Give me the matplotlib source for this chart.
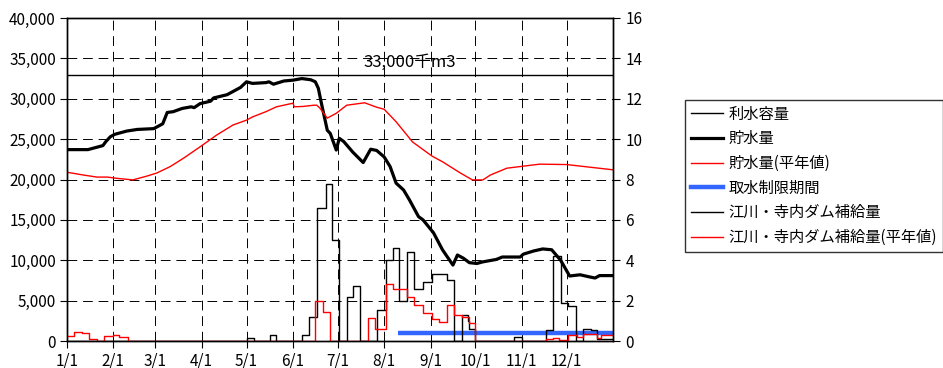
import matplotlib
matplotlib.use("Agg")
import matplotlib.pyplot as plt
from matplotlib.lines import Line2D

plt.rcParams['font.family'] = ['Noto Sans CJK JP', 'DejaVu Sans']

# 日付は 1/1 からの通日
month_days = [0, 31, 59, 90, 120, 151, 181, 212, 243, 273, 304, 334]
month_labels = ['1/1', '2/1', '3/1', '4/1', '5/1', '6/1', '7/1', '8/1', '9/1', '10/1', '11/1', '12/1']

capacity = 33000  # 利水容量 (千m3)

# 貯水量
storage_days = [0, 14, 20, 24, 26, 29, 32, 40, 47, 58, 61, 64, 67, 71, 77, 83, 85, 89, 96, 98,
                107, 111, 116, 120, 124, 133, 135, 138, 145, 151, 157, 163, 166, 168, 170, 174,
                176, 180, 182, 185, 191, 198, 203, 207, 212, 216, 220, 225, 229, 235, 238, 245,
                251, 258, 261, 265, 269, 274, 278, 287, 291, 303, 305, 312, 318, 324, 330, 336,
                343, 349, 353, 356, 365]
storage = [23700, 23700, 24000, 24200, 24700, 25300, 25600, 26000, 26200, 26300, 26600, 26900,
           28300, 28400, 28800, 29000, 28900, 29400, 29700, 30100, 30500, 30900, 31400, 32100,
           31900, 32000, 32100, 31800, 32200, 32300, 32500, 32350, 32100, 31300, 29500, 26100,
           25700, 23650, 25100, 24700, 23400, 22100, 23750, 23600, 22800, 21600, 19550, 18700,
           17450, 15400, 15000, 13400, 11300, 9400, 10650, 10250, 9700, 9600, 9800, 10100,
           10400, 10400, 10750, 11150, 11400, 11300, 10000, 8050, 8200, 7950, 7800, 8100, 8100]

# 貯水量(平年値)
normal_days = [0, 11, 20, 27, 33, 44, 53, 60, 69, 78, 89, 100, 111, 120, 124, 133, 140, 151, 152,
               158, 165, 167, 169, 174, 180, 187, 199, 207, 212, 220, 231, 244, 251, 263, 271,
               278, 283, 294, 316, 334, 365]
normal_storage = [20900, 20550, 20300, 20300, 20150, 19950, 20400, 20800, 21600, 22650, 24050,
                  25500, 26750, 27350, 27750, 28400, 29000, 29450, 29000, 29050, 29200, 29200,
                  28850, 27600, 28200, 29200, 29500, 28950, 28700, 27150, 24650, 22900, 22200,
                  20800, 19950, 19950, 20550, 21400, 21900, 21850, 21200]

# 取水制限期間
restrict_days = [221, 365]
restrict_level = [1000, 1000]

# 江川・寺内ダム補給量 (m3/s)
supply_days = [0, 120, 125, 136, 140, 157, 162, 167, 173, 177, 182, 187, 191, 196, 207, 213, 218,
               222, 227, 232, 238, 244, 254, 259, 264, 268, 269, 273, 299, 304, 320, 325, 330,
               335, 340, 345, 350, 354, 365]
supply = [0, 0.15, 0, 0.3, 0, 0.3, 1.2, 6.6, 7.8, 5.0, 0, 2.2, 2.7, 0, 1.55, 4.0, 4.6, 2.0, 4.4,
          2.6, 2.9, 3.3, 3.0, 0, 1.3, 1.0, 0.6, 0, 0.2, 0, 0.55, 4.2, 1.9, 1.75, 0, 0.6, 0.55,
          0.08, 0.08]

# 江川・寺内ダム補給量(平年値)
supply_n_days = [0, 5, 10, 15, 20, 25, 31, 35, 41, 166, 171, 176, 201, 206, 213, 218, 227, 232,
                 238, 244, 249, 254, 259, 264, 269, 273, 320, 325, 329, 335, 341, 345, 354, 357, 365]
supply_normal = [0.26, 0.43, 0.38, 0.1, 0, 0.25, 0.3, 0.21, 0, 2.0, 1.45, 0, 1.15, 0.6, 2.8, 2.6,
                 2.2, 1.8, 1.4, 1.1, 0.93, 1.8, 1.3, 1.2, 0.9, 0, 0.1, 0.15, 0.05, 0.3, 0.2, 0.35,
                 0.15, 0.3, 0.3]

fig = plt.figure(figsize=(9.43, 3.68), dpi=100)
ax = fig.add_axes([67 / 943, 1 - 341 / 368, (613 - 67) / 943, (341 - 18) / 368])
ax2 = ax.twinx()

grid_style = dict(color='black', linewidth=0.7, linestyle=(0, (10, 6)))
for d in month_days[1:]:
    ax.axvline(d, zorder=0, **grid_style)
for v in range(5000, 40000, 5000):
    ax.axhline(v, zorder=0, **grid_style)

ax.axhline(capacity, color='black', linewidth=1.0)
ax.plot(storage_days, storage, color='black', linewidth=2.3)
ax.plot(normal_days, normal_storage, color='red', linewidth=1.0)
ax.plot(restrict_days, restrict_level, color='#3366ff', linewidth=3.2, solid_capstyle='butt')
ax.text(229, 34550, '33,000千m3', ha='center', va='center', fontsize=12)

ax2.step(supply_days, supply, where='post', color='black', linewidth=1.0)
ax2.step(supply_n_days, supply_normal, where='post', color='red', linewidth=1.0)

ax.set_xlim(0, 365)
ax.set_ylim(0, 40000)
ax2.set_ylim(0, 16)
ax.set_xticks(month_days)
ax.set_xticklabels(month_labels)
ax.set_yticks(range(0, 40001, 5000))
ax.set_yticklabels([f'{v:,}' for v in range(0, 40001, 5000)])
ax2.set_yticks(range(0, 17, 2))

ax.tick_params(axis='both', direction='out', length=5, labelsize=11, pad=3)
ax2.tick_params(axis='y', direction='out', length=5, labelsize=11, pad=4)
for a in (ax, ax2):
    for s in a.spines.values():
        s.set_linewidth(1.0)

handles = [
    Line2D([], [], color='black', linewidth=1.0),
    Line2D([], [], color='black', linewidth=2.3),
    Line2D([], [], color='red', linewidth=1.0),
    Line2D([], [], color='#3366ff', linewidth=3.2),
    Line2D([], [], color='black', linewidth=1.0),
    Line2D([], [], color='red', linewidth=1.0),
]
labels = ['利水容量', '貯水量', '貯水量(平年値)', '取水制限期間', '江川・寺内ダム補給量', '江川・寺内ダム補給量(平年値)']
leg = fig.legend(handles, labels, loc='upper left', bbox_to_anchor=(677 / 943, 1 - 92 / 368),
                 fontsize=11, frameon=True, fancybox=False, edgecolor='black',
                 handlelength=2.1, handletextpad=0.35, labelspacing=0.5, borderpad=0.4)
leg.get_frame().set_linewidth(1.0)

fig.savefig('out.png', dpi=100)
